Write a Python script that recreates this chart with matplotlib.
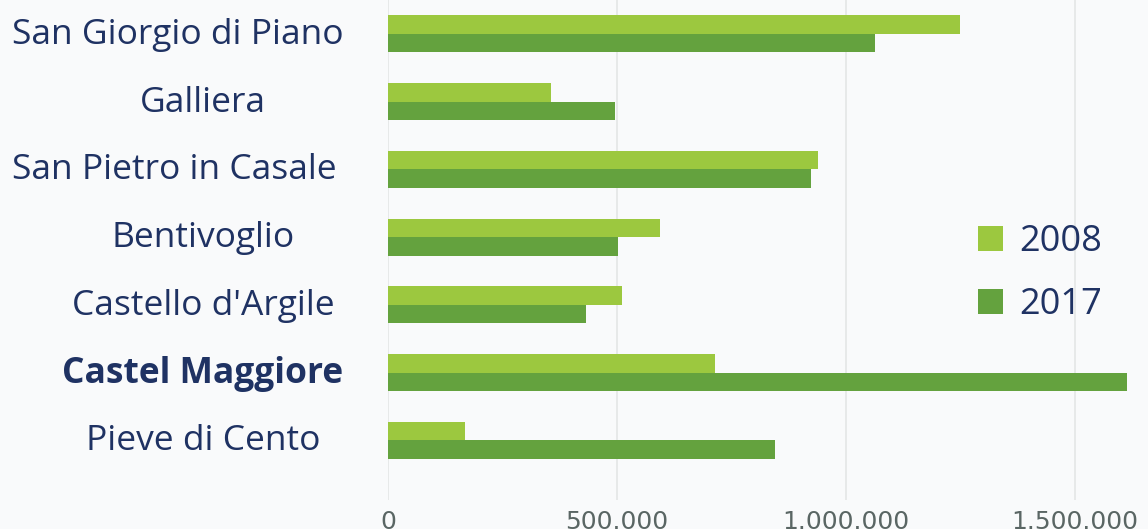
import matplotlib
matplotlib.use("Agg")
import matplotlib.pyplot as plt
import numpy as np

categories = ["San Giorgio di Piano", "Galliera", "San Pietro in Casale", "Bentivoglio",
              "Castello d'Argile", "Castel Maggiore", "Pieve di Cento"]
values_2008 = [1249000, 356000, 939000, 594000, 511000, 714000, 168000]
values_2017 = [1063000, 496000, 924000, 502000, 432000, 1614000, 845000]
series_labels = ["2008", "2017"]
xticks = [0, 500000, 1000000, 1500000]
bold_category = "Castel Maggiore"

c2008 = "#9cc83f"
c2017 = "#64a23e"
navy = "#1f3263"

W, H = 1148, 529
fig = plt.figure(figsize=(W/100, H/100), dpi=100, facecolor="#f9fafb")
ax = fig.add_axes([388/W, 29/H, 1 - 388/W, 1 - 29/H])
ax.set_facecolor("none")

y = np.arange(len(categories))
h = 0.273
ax.barh(y - h/2, values_2008, height=h, color=c2008, label=series_labels[0], zorder=3)
ax.barh(y + h/2, values_2017, height=h, color=c2017, label=series_labels[1], zorder=3)

ax.set_xlim(0, 1659000)
ax.set_ylim(6.88, -0.50)
ax.set_xticks(xticks)
ax.set_xticklabels([f"{v:,}".replace(",", ".") for v in xticks],
                   fontsize=18, color="#5a6664", family="DejaVu Sans")
ax.tick_params(axis="x", length=0, pad=7)
ax.set_yticks([])
for s in ax.spines.values():
    s.set_visible(False)
ax.grid(axis="x", color="#e4e6e6", linewidth=1.2, zorder=0)

# category labels
for i, cat in enumerate(categories):
    ypix = H - (35 + 67.7 * i)
    weight = "bold" if cat == bold_category else "normal"
    if len(cat) > 18:
        fig.text(12/W, ypix/H, cat, ha="left", va="center", fontsize=25.5,
                 color=navy, family="Open Sans", fontweight=weight)
    else:
        fig.text(203/W, ypix/H, cat, ha="center", va="center", fontsize=25.5,
                 color=navy, family="Open Sans", fontweight=weight)

leg = ax.legend(loc="upper left", bbox_to_anchor=(978/W, 1 - 224/H),
                bbox_transform=fig.transFigure, borderpad=0, borderaxespad=0,
                frameon=False, handlelength=0.7, handleheight=0.7,
                handletextpad=0.45, labelspacing=0.75,
                prop={"family": "Open Sans", "size": 26})
for t in leg.get_texts():
    t.set_color(navy)

fig.savefig("out.png", dpi=100, facecolor=fig.get_facecolor())
